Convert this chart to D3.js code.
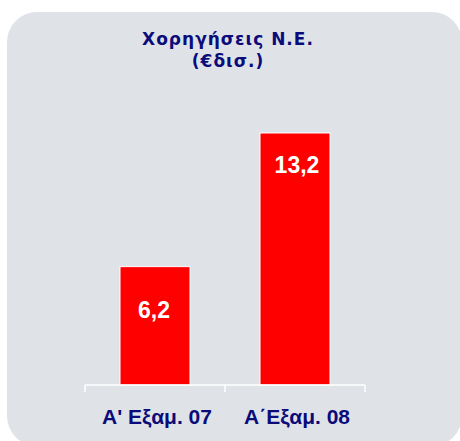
<!DOCTYPE html>
<html lang="el">
<head>
<meta charset="UTF-8">
<title>chart</title>
<script src="https://d3js.org/d3.v7.min.js"></script>
<style>
  body { margin: 0; background: #fff; }
</style>
</head>
<body>
<svg width="460" height="441"></svg>
<script>
// data
const categories = ["A' Εξαμ. 07", "Α΄Εξαμ. 08"];
const values = [6.2, 13.2];
const valueLabels = ["6,2", "13,2"];
const titleLines = ["Χορηγήσεις Ν.Ε.", "(€δισ.)"];

const navy = "#0b0b7a";
const svg = d3.select("svg");

// panel background (rounded box)
svg.append("rect")
    .attr("x", 7).attr("y", 12)
    .attr("width", 455).attr("height", 434)
    .attr("rx", 30).attr("ry", 30)
    .attr("fill", "#dfe3e8");

// title
svg.append("g").selectAll("text")
    .data(titleLines)
    .enter()
    .append("text")
    .attr("x", 228)
    .attr("y", (d, i) => 45 + i * 22)
    .attr("text-anchor", "middle")
    .attr("font-family", "DejaVu Sans, sans-serif")
    .attr("font-weight", "bold")
    .attr("font-size", 17)
    .attr("letter-spacing", 1)
    .attr("fill", navy)
    .text(d => d);

const x = d3.scaleBand()
    .domain(categories)
    .range([85, 365])
    .paddingInner(0.5)
    .paddingOuter(0.25);

const y = d3.scaleLinear()
    .domain([0, 13.2])
    .range([385, 133]);

// bars
svg.append("g").selectAll("rect")
    .data(values)
    .enter()
    .append("rect")
    .attr("x", (d, i) => x(categories[i]))
    .attr("y", d => y(d))
    .attr("width", x.bandwidth())
    .attr("height", d => y(0) - y(d))
    .attr("fill", "#ff0000")
    .attr("stroke", "#fff")
    .attr("stroke-width", 1);

// value labels inside bars
const labelDy = [51, 40];
const labelDx = [-1, 2];
svg.append("g").selectAll("text")
    .data(values)
    .enter()
    .append("text")
    .attr("x", (d, i) => x(categories[i]) + x.bandwidth() / 2 + labelDx[i])
    .attr("y", (d, i) => y(d) + labelDy[i])
    .attr("text-anchor", "middle")
    .attr("font-family", "Liberation Sans, Arial, sans-serif")
    .attr("font-weight", "bold")
    .attr("font-size", 23)
    .attr("fill", "#fff")
    .text((d, i) => valueLabels[i]);

// axis: line with ticks between categories
const axisG = svg.append("g")
    .attr("transform", "translate(0," + y(0) + ")");
const tickPos = [85, 225, 365];
axisG.append("line")
    .attr("x1", 85).attr("x2", 365)
    .attr("stroke", "#fff").attr("stroke-width", 1.5);
axisG.selectAll("line.tick")
    .data(tickPos)
    .enter()
    .append("line")
    .attr("class", "tick")
    .attr("x1", d => d).attr("x2", d => d)
    .attr("y1", 0).attr("y2", 7)
    .attr("stroke", "#fff").attr("stroke-width", 1.5);

// category labels
axisG.selectAll("text")
    .data(categories)
    .enter()
    .append("text")
    .attr("x", (d, i) => x(d) + x.bandwidth() / 2 + 2)
    .attr("y", 39)
    .attr("text-anchor", "middle")
    .attr("font-family", "Liberation Sans, Arial, sans-serif")
    .attr("font-weight", "bold")
    .attr("font-size", 21)
    .attr("fill", navy)
    .text(d => d);
</script>
</body>
</html>
